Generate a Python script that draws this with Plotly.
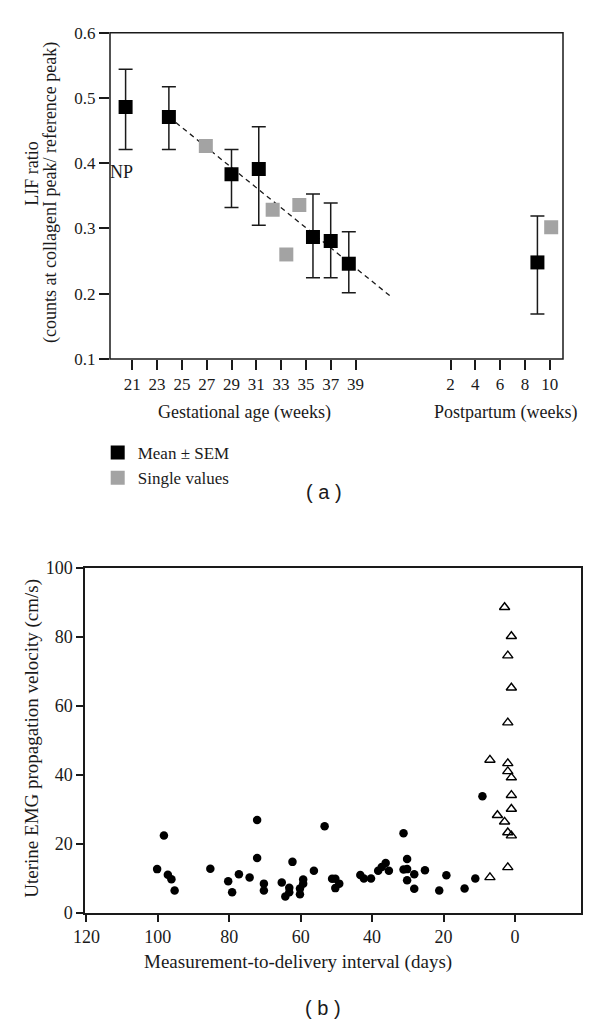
import plotly.graph_objects as go

W, H = 600, 1026

# ---------------- Panel (a) data ----------------
gest_mean_x = [20.46, 23.95, 29.0, 31.2, 35.57, 37.0, 38.46]
gest_mean_y = [0.486, 0.471, 0.383, 0.391, 0.287, 0.281, 0.246]
gest_err_hi = [0.544, 0.517, 0.421, 0.456, 0.353, 0.339, 0.295]
gest_err_lo = [0.421, 0.421, 0.332, 0.305, 0.2245, 0.2245, 0.2015]
gest_single_x = [26.93, 32.32, 33.42, 34.47]
gest_single_y = [0.4265, 0.3286, 0.2602, 0.336]
pp_mean_x = [9.01]
pp_mean_y = [0.248]
pp_err_hi = [0.319]
pp_err_lo = [0.169]
pp_single_x = [10.12]
pp_single_y = [0.302]
trend_x = [23.95, 41.9]
trend_y = [0.471, 0.195]
gest_ticks = [21, 23, 25, 27, 29, 31, 33, 35, 37, 39]
pp_ticks = [2, 4, 6, 8, 10]
a_yticks = [0.1, 0.2, 0.3, 0.4, 0.5, 0.6]

# ---------------- Panel (b) data ----------------
circ_x = [100.2, 98.3, 97.2, 96.2, 95.3, 85.3, 80.3, 79.2, 77.3, 74.3,
          72.2, 72.2, 70.3, 70.3, 65.3, 64.3, 63.2, 63.2, 62.3, 60.2,
          60.2, 59.3, 59.3, 56.3, 53.3, 51.2, 50.3, 50.3, 49.2, 43.3,
          42.3, 40.3, 38.3, 37.3, 36.2, 35.3, 31.2, 31.2, 30.2, 30.2,
          30.2, 28.2, 28.2, 25.2, 21.2, 19.2, 14.1, 11.1, 9.1]
circ_y = [12.7, 22.4, 11.1, 9.8, 6.5, 12.8, 9.2, 6.0, 11.2, 10.3,
          26.9, 15.9, 8.5, 6.5, 8.8, 4.8, 7.3, 6.0, 14.8, 7.1,
          5.4, 9.7, 8.5, 12.2, 25.1, 9.9, 9.9, 7.2, 8.5, 11.0,
          10.0, 10.0, 12.2, 13.3, 14.5, 12.2, 23.1, 12.6, 15.6, 12.7,
          9.5, 11.2, 7.0, 12.4, 6.5, 10.9, 7.1, 10.0, 33.8]
tri_x = [2.9, 1.0, 2.0, 1.0, 2.0, 7.0, 2.0, 2.0, 1.0, 1.0, 1.0, 4.9, 2.9,
         2.0, 1.0, 2.0, 7.0]
tri_y = [88.5, 80.1, 74.5, 65.2, 55.1, 44.3, 43.3, 41.0, 39.2, 34.1, 30.1,
         28.3, 26.4, 23.3, 22.4, 13.2, 10.3]
b_xticks = [120, 100, 80, 60, 40, 20, 0]
b_yticks = [0, 20, 40, 60, 80, 100]


def fx(px):
    return px / W


def fy(py):
    return 1 - py / H


SERIF = "Liberation Serif"
SANS = "Liberation Sans"
INK = "#1a1a1a"
GRAY = "#a3a3a3"

fig = go.Figure()

# ---- panel (a) traces ----
fig.add_trace(go.Scatter(
    x=trend_x, y=trend_y, mode="lines", xaxis="x", yaxis="y",
    line=dict(color=INK, width=1.3, dash="5px,4px"), showlegend=False,
    hoverinfo="skip"))

fig.add_trace(go.Scatter(
    x=gest_mean_x, y=gest_mean_y, mode="markers", xaxis="x", yaxis="y",
    name="Mean ± SEM",
    marker=dict(symbol="square", size=14, color="black"),
    error_y=dict(type="data", symmetric=False,
                 array=[h - m for h, m in zip(gest_err_hi, gest_mean_y)],
                 arrayminus=[m - l for l, m in zip(gest_err_lo, gest_mean_y)],
                 color=INK, thickness=1.5, width=7)))

fig.add_trace(go.Scatter(
    x=gest_single_x, y=gest_single_y, mode="markers", xaxis="x", yaxis="y",
    name="Single values",
    marker=dict(symbol="square", size=14, color=GRAY)))

fig.add_trace(go.Scatter(
    x=pp_mean_x, y=pp_mean_y, mode="markers", xaxis="x2", yaxis="y",
    name="Mean ± SEM", showlegend=False,
    marker=dict(symbol="square", size=14, color="black"),
    error_y=dict(type="data", symmetric=False,
                 array=[h - m for h, m in zip(pp_err_hi, pp_mean_y)],
                 arrayminus=[m - l for l, m in zip(pp_err_lo, pp_mean_y)],
                 color=INK, thickness=1.5, width=7)))

fig.add_trace(go.Scatter(
    x=pp_single_x, y=pp_single_y, mode="markers", xaxis="x2", yaxis="y",
    name="Single values", showlegend=False,
    marker=dict(symbol="square", size=14, color=GRAY)))

# ---- panel (b) traces ----
fig.add_trace(go.Scatter(
    x=circ_x, y=circ_y, mode="markers", xaxis="x3", yaxis="y3",
    showlegend=False,
    marker=dict(symbol="circle", size=8.5, color="black")))

fig.add_trace(go.Scatter(
    x=tri_x, y=tri_y, mode="markers", xaxis="x3", yaxis="y3",
    showlegend=False,
    marker=dict(symbol="triangle-up-open", size=9, color="black",
                line=dict(width=1.4, color="black"))))


# ---- axes ----
def tick_common(size):
    return dict(ticks="outside", tickcolor=INK, tickwidth=1.5,
                showgrid=False, zeroline=False, automargin=False,
                tickfont=dict(family=SERIF, size=size, color=INK))


a_left, a_split, a_right = 110, 410, 563
a_top, a_bot = 32.7, 359
px_per_wk = 12.4
g_x0 = 21 - (132.3 - a_left) / px_per_wk
g_x1 = g_x0 + (a_split - a_left) / px_per_wk
p_x0 = 2 - (450.5 - a_split) / px_per_wk
p_x1 = p_x0 + (a_right - a_split) / px_per_wk

b_left, b_right, b_top, b_bot = 85, 581, 567.5, 913

fig.update_layout(
    xaxis=dict(domain=[fx(a_left), fx(a_split)], range=[g_x0, g_x1],
               anchor="y", tickvals=gest_ticks, ticklen=10, showline=False,
               **tick_common(17)),
    xaxis2=dict(domain=[fx(a_split), fx(a_right)], range=[p_x0, p_x1],
                anchor="y", tickvals=pp_ticks, ticklen=10, showline=False,
                **tick_common(17)),
    yaxis=dict(domain=[fy(a_bot), fy(a_top)], range=[0.1, 0.6],
               anchor="x", tickvals=a_yticks,
               ticktext=["%.1f" % v for v in a_yticks], ticklen=10,
               showline=False, **tick_common(17)),
    xaxis3=dict(domain=[fx(b_left), fx(b_right)], range=[120.4, -18.5],
                anchor="y3", tickvals=b_xticks, ticklen=7,
                showline=True, mirror=True, linecolor=INK, linewidth=1.5,
                **tick_common(18)),
    yaxis3=dict(domain=[fy(b_bot), fy(b_top)], range=[0, 100],
                anchor="x3", tickvals=b_yticks, ticklen=7,
                showline=True, mirror=True, linecolor=INK, linewidth=1.5,
                **tick_common(18)),
)

# frame for panel (a)
fig.add_shape(type="rect", xref="paper", yref="paper",
              x0=fx(a_left), x1=fx(a_right), y0=fy(a_bot), y1=fy(a_top),
              line=dict(color=INK, width=1.5), fillcolor="rgba(0,0,0,0)",
              layer="above")


def note(text, px, py, size, family=SERIF, angle=0):
    return dict(text=text, x=fx(px), y=fy(py), xref="paper", yref="paper",
                xanchor="center", yanchor="middle", textangle=angle,
                showarrow=False, font=dict(family=family, size=size, color=INK))


ann = [
    dict(text="NP", x=20.14, y=0.386, xref="x", yref="y", xanchor="center",
         yanchor="middle", showarrow=False,
         font=dict(family=SERIF, size=18, color=INK)),
    note("Gestational age (weeks)", 244, 412.7, 18),
    note("Postpartum (weeks)", 505.5, 412.7, 18),
    note("LIF ratio", 31.7, 173, 18, angle=-90),
    note("(counts at collagenI peak/ reference peak)", 50, 193, 18, angle=-90),
    note("( a )", 324, 492, 20, family=SANS),
    note("Uterine EMG propagation velocity (cm/s)", 31.7, 738, 19, angle=-90),
    note("Measurement-to-delivery interval (days)", 297.5, 961.7, 19),
    note("( b )", 323.3, 1008, 20, family=SANS),
]

fig.update_layout(
    width=W, height=H, autosize=False,
    margin=dict(l=0, r=0, t=0, b=0, pad=0, autoexpand=False),
    paper_bgcolor="white", plot_bgcolor="white",
    annotations=ann,
    showlegend=True,
    legend=dict(x=fx(97.7), y=fy(435), xanchor="left", yanchor="top",
                bgcolor="rgba(0,0,0,0)", borderwidth=0, tracegroupgap=0,
                font=dict(family=SERIF, size=17, color=INK),
                itemsizing="trace"),
)

fig.write_html("out.html", config={"displayModeBar": False},
               post_script="document.body.style.margin='0';")
